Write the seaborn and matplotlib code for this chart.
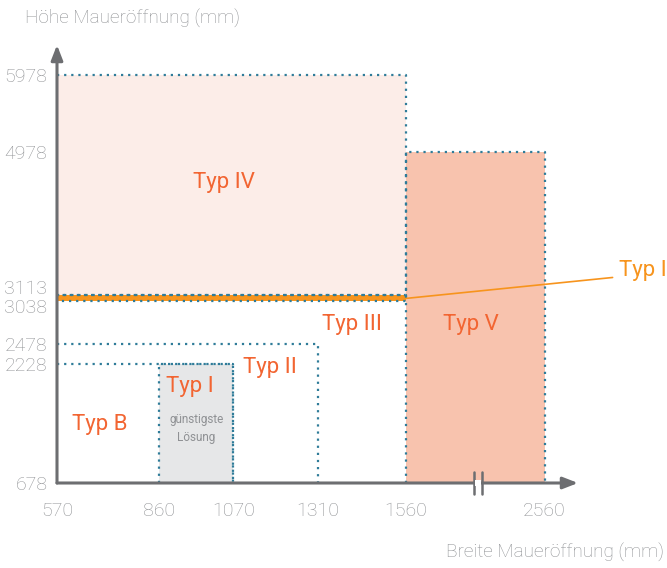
import numpy as np
import matplotlib
matplotlib.use("Agg")
import matplotlib.pyplot as plt
import matplotlib.transforms as mtransforms
from matplotlib.patches import Rectangle
import seaborn as sns

# --- data -------------------------------------------------------------
x_ticks = [570, 860, 1070, 1310, 1560, 2560]
y_ticks = [678, 2228, 2478, 3038, 3113, 4978, 5978]

box_names = ["Typ IV", "Typ V", "Typ III", "Typ II", "Typ I", "Typ I Band"]
box_x0 = [570, 1560, 570, 570, 860, 570]
box_x1 = [1560, 2560, 1310, 1070, 1070, 1560]
box_y0 = [3113, 678, 678, 678, 678, 3038]
box_y1 = [5978, 4978, 2478, 2228, 2228, 3113]
box_fill = ["#fcede8", "#f8c3ae", None, None, "#e6e7e8", "#f7941d"]

label_text = ["Typ IV", "Typ III", "Typ V", "Typ II", "Typ I", "Typ B"]
label_x = [1044, 1407, 2030, 1174, 947, 692]
label_y = [4574, 2730, 2730, 2172, 1925, 1444]

x_min, x_max = 570, 2800
y_min, y_max = 678, 6366
x_break = 1560
compress = 0.394

ORANGE = "#f26532"
CALLOUT = "#f7941d"
DOTS = "#2f7c99"
AXIS = "#6d6e71"
GREY = "#8f9194"


def fwd(x):
    x = np.asarray(x, dtype=float)
    return np.where(x <= x_break, x, x_break + (x - x_break) * compress)


def inv(x):
    x = np.asarray(x, dtype=float)
    return np.where(x <= x_break, x, x_break + (x - x_break) / compress)


sns.set_style("white")
plt.rcParams["font.family"] = ["Roboto", "DejaVu Sans"]
plt.rcParams["font.weight"] = "light"

fig = plt.figure(figsize=(6.67, 5.68), dpi=100)
ax = fig.add_axes([57 / 667, 85 / 568, 521 / 667, 438 / 568])
ax.set_xscale("function", functions=(fwd, inv))
ax.set_xlim(x_min, x_max)
ax.set_ylim(y_min, y_max)

# filled boxes
for x0, x1, y0, y1, fc in zip(box_x0, box_x1, box_y0, box_y1, box_fill):
    if fc:
        ax.add_patch(Rectangle((x0, y0), x1 - x0, y1 - y0, facecolor=fc,
                               edgecolor="none", zorder=1))

# dotted outlines
for x0, x1, y0, y1 in zip(box_x0, box_x1, box_y0, box_y1):
    xs, ys = [x0], [y1]
    if x0 > x_min:
        xs, ys = [x0, x0], [y0, y1]
    xs += [x1, x1]
    ys += [y1, y0]
    if y0 > y_min:
        xs += [x0]
        ys += [y0]
    sns.lineplot(x=xs, y=ys, sort=False, estimator=None, ax=ax, color=DOTS,
                 lw=1.6, linestyle=(0, (1, 2.2)), zorder=3)

# labels
for t, lx, ly in zip(label_text, label_x, label_y):
    ax.text(lx, ly, t, color=ORANGE, fontsize=16, fontweight="normal",
            ha="center", va="center", zorder=4)
ax.text(965, 1392, "günstigste\nLösung", color=GREY, fontsize=8.5, fontweight="normal",
        ha="center", va="center", linespacing=1.5, zorder=4)

# callout for the Typ I band
ax.annotate("Typ I", xy=(1560, 3075), xytext=(1.078, 0.485), textcoords="axes fraction",
            color=CALLOUT, fontsize=16, fontweight="normal", ha="left", va="center",
            annotation_clip=False,
            arrowprops=dict(arrowstyle="-", color=CALLOUT, lw=1.2,
                            relpos=(0, 0.2), shrinkA=2, shrinkB=0))

# axes with arrows
for s in ax.spines.values():
    s.set_visible(False)
ax.annotate("", xy=(1, 0), xytext=(0, 0), xycoords="axes fraction",
            arrowprops=dict(arrowstyle="-|>,head_length=0.9,head_width=0.35",
                            color=AXIS, lw=2.2, shrinkA=0, shrinkB=0), zorder=5)
ax.annotate("", xy=(0, 1), xytext=(0, 0), xycoords="axes fraction",
            arrowprops=dict(arrowstyle="-|>,head_length=0.9,head_width=0.35",
                            color=AXIS, lw=2.2, shrinkA=0, shrinkB=0), zorder=5)

# axis break
for bx in (0.800, 0.816):
    ax.plot([bx, bx], [-0.025, 0.025], transform=ax.transAxes, color=AXIS,
            lw=1.8, clip_on=False, zorder=6)
ax.add_patch(Rectangle((0.8025, -0.006), 0.011, 0.012, transform=ax.transAxes,
                       facecolor="white", edgecolor="none", clip_on=False, zorder=6))

# ticks
ax.set_xticks(x_ticks)
ax.set_xticklabels([str(v) for v in x_ticks])
ax.set_yticks(y_ticks)
ax.set_yticklabels([str(v) for v in y_ticks])
ax.minorticks_off()
ax.tick_params(axis="x", length=0, pad=14, labelsize=14, labelcolor=GREY)
ax.tick_params(axis="y", length=0, pad=7, labelsize=14, labelcolor=GREY)
shift = {"3113": 6.0, "3038": -3.5}
for lab in ax.get_yticklabels():
    dy = shift.get(lab.get_text(), 0)
    if dy:
        lab.set_transform(lab.get_transform() +
                          mtransforms.ScaledTranslation(0, dy / 72, fig.dpi_scale_trans))

fig.text(25 / 667, 1 - 18 / 568, "Höhe Maueröffnung (mm)", color=GREY, fontsize=13.7,
         ha="left", va="center")
fig.text(664 / 667, 1 - 552 / 568, "Breite Maueröffnung (mm)", color=GREY, fontsize=13.7,
         ha="right", va="center")

fig.savefig("out.png", dpi=100)
